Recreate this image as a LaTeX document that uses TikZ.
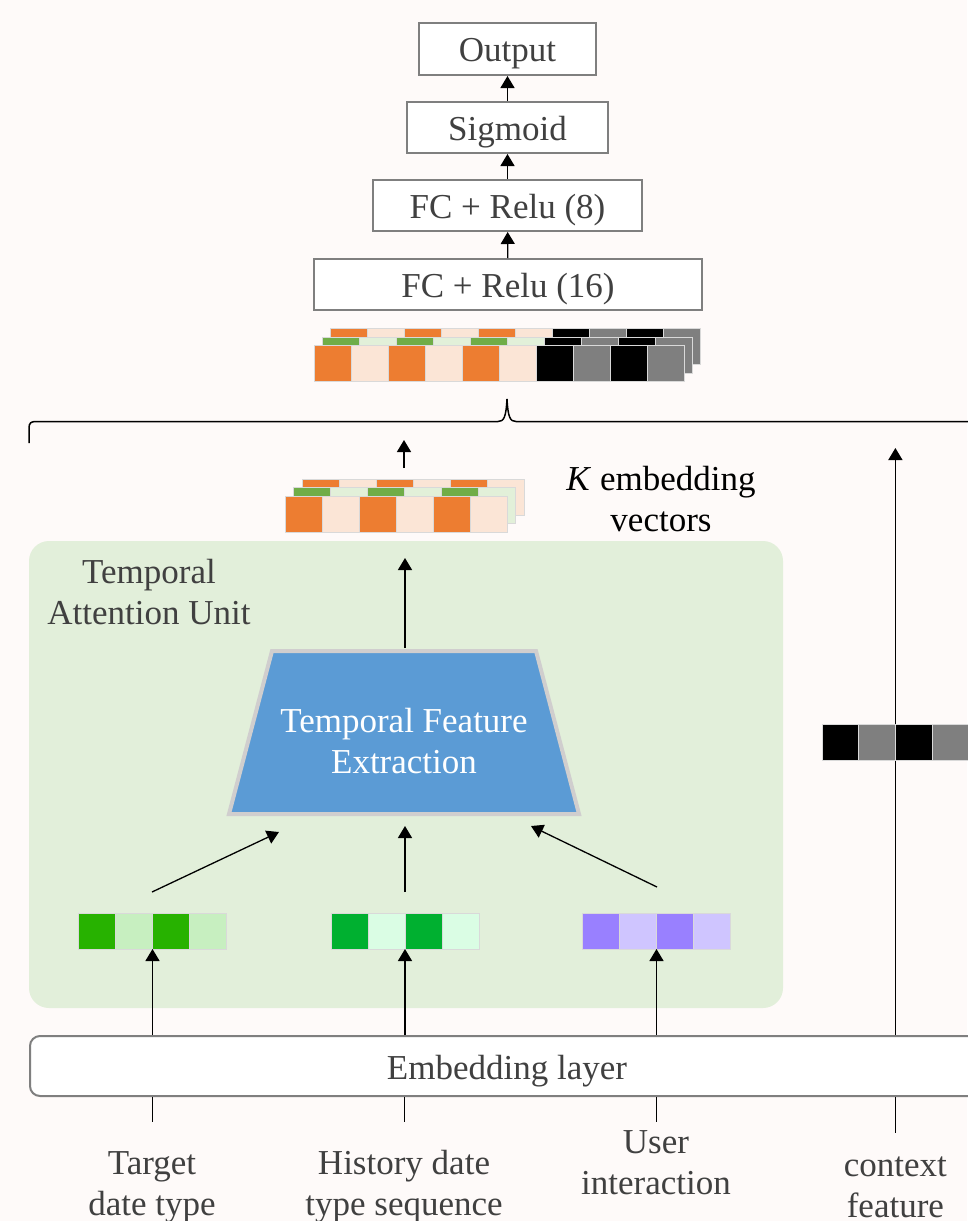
\documentclass[tikz,border=0pt]{standalone}
\usepackage{fontspec}
\setmainfont{Liberation Serif}
\usetikzlibrary{arrows.meta}

\definecolor{bg}{RGB}{254,250,249}
\definecolor{boxline}{RGB}{127,127,127}
\definecolor{txt}{RGB}{64,64,64}
\definecolor{cellline}{RGB}{217,217,217}
\definecolor{orng}{RGB}{237,125,49}
\definecolor{peach}{RGB}{251,229,214}
\definecolor{grn}{RGB}{112,173,71}
\definecolor{lgrn}{RGB}{226,240,217}
\definecolor{gry}{RGB}{127,127,127}
\definecolor{tgreen}{RGB}{39,178,0}
\definecolor{tlgreen}{RGB}{199,239,192}
\definecolor{hgreen}{RGB}{0,176,48}
\definecolor{hlgreen}{RGB}{218,253,228}
\definecolor{upurp}{RGB}{153,128,255}
\definecolor{ulpurp}{RGB}{207,197,255}
\definecolor{tauback}{RGB}{226,239,218}
\definecolor{tfeblue}{RGB}{91,155,213}
\definecolor{tfeline}{RGB}{208,206,206}

\tikzset{
  bigfont/.style={font=\fontsize{35}{41}\selectfont},
  layerbox/.style={draw=boxline, line width=2pt, fill=white, text=txt,
    bigfont, inner sep=0pt, minimum height=51pt, text height=29pt, text depth=4pt},
  cell/.style={draw=cellline, line width=1pt, minimum height=36pt,
    inner sep=0pt, outer sep=0pt},
  arr/.style={-{Triangle[width=14pt,length=12pt]}, line width=1.3pt},
  tick/.style={line width=1pt},
  lbl/.style={bigfont, text=txt, align=center, inner sep=0pt},
}

% one row of coloured cells: left x, centre y, cell width, colours, name prefix
\newcommand{\cellrow}[5]{%
  \foreach \c [count=\i from 0] in {#4}
    \node[cell, fill=\c, minimum width=#3pt] (#5-\i) at ({#1+#3*\i+#3/2}, #2) {};}

\begin{document}
\begin{tikzpicture}[x=1pt, y=-1pt]
\useasboundingbox (0,0) rectangle (967,1221);
\fill[bg] (0,0) rectangle (967,1221);

% ---- output head ----
\node[layerbox, minimum width=177pt, minimum height=52pt] (out) at (507.5,49) {Output};
\node[layerbox, minimum width=201pt] (sig) at (507.5,127.5) {Sigmoid};
\node[layerbox, minimum width=269pt] (fc8) at (507.5,205.5) {FC + Relu (8)};
\node[layerbox, minimum width=388pt] (fc16) at (508,284.5) {FC + Relu (16)};
\draw[arr] (sig) -- (out);
\draw[arr] (fc8) -- (sig);
\draw[arr] (fc16) -- (fc8);

% ---- concatenated stack ----
\cellrow{330}{346.5}{37}{orng,peach,orng,peach,orng,peach,black,gry,black,gry}{sb}
\cellrow{322}{355}{37}{grn,lgrn,grn,lgrn,grn,lgrn,black,gry,black,gry}{sm}
\cellrow{314}{363.5}{37}{orng,peach,orng,peach,orng,peach,black,gry,black,gry}{sf}

% ---- brace ----
\draw[line width=1.5pt] (29,443) -- (29,428)
  .. controls (29,423) and (31,421.5) .. (36,421.5) -- (498,421.5)
  .. controls (504,421.5) and (506,417) .. (507,399)
  .. controls (508,417) and (510,421.5) .. (516,421.5) -- (978,421.5)
  .. controls (983,421.5) and (985,423) .. (985,428) -- (985,443);

% ---- temporal attention unit ----
\node[fill=tauback, rounded corners=20pt, minimum width=754pt, minimum height=467pt,
  inner sep=0pt] (tau) at (406,774.5) {};
\node[lbl] (taulbl) at (149,592) {Temporal\\Attention Unit};

\draw[draw=tfeline, fill=tfeblue, line width=4pt, line join=miter]
  (229,814) -- (272,651) -- (536,651) -- (579,814) -- cycle;
\node[lbl, text=white] (tfe) at (404,741) {Temporal Feature\\Extraction};
\coordinate (tfetop) at (405,648);
\coordinate (tfel) at (279,832);
\coordinate (tfem) at (405,826);
\coordinate (tfer) at (531,826);

% ---- K embedding vectors ----
\cellrow{302}{497.5}{37}{orng,peach,orng,peach,orng,peach}{kb}
\cellrow{293.5}{505.5}{37}{grn,lgrn,grn,lgrn,grn,lgrn}{km}
\cellrow{285}{514}{37}{orng,peach,orng,peach,orng,peach}{kf}
\node[lbl, text=black] (klbl) at (661,499.5) {\textit{K} embedding\\vectors};
\coordinate (kin) at (405,558);
\coordinate (kout0) at (404,468);
\coordinate (kout1) at (404,440);
\draw[arr] (tfetop) -- (kin);
\draw[arr] (kout0) -- (kout1);

% ---- input embeddings ----
\cellrow{78.5}{931}{37}{tgreen,tlgreen,tgreen,tlgreen}{tv}
\cellrow{331}{931}{37}{hgreen,hlgreen,hgreen,hlgreen}{hv}
\cellrow{582.5}{931}{37}{upurp,ulpurp,upurp,ulpurp}{uv}
\coordinate (tvo) at (152,892);
\coordinate (hvo) at (405,892);
\coordinate (uvo) at (657,887);
\draw[arr] (tvo) -- (tfel);
\draw[arr] (hvo) -- (tfem);
\draw[arr] (uvo) -- (tfer);

% ---- embedding layer ----
\node[draw=boxline, line width=2pt, fill=white, rounded corners=10pt,
  minimum width=954pt, minimum height=60pt, inner sep=0pt, text=txt, bigfont,
  text height=30pt, text depth=3pt]
  (emb) at (507,1066) {Embedding layer};

% ---- context path ----
\coordinate (ctxtip) at (895.4,448);
\draw[arr] (ctxtip |- emb.north) -- (ctxtip);
\cellrow{822}{742.5}{36.7}{black,gry,black,gry}{cv}

\draw[arr] (tv-1.south east |- emb.north) -- (tv-1.south east);
\draw[arr] (hv-1.south east |- emb.north) -- (hv-1.south east);
\draw[arr] (uv-1.south east |- emb.north) -- (uv-1.south east);

% ---- raw inputs ----
\node[lbl] (in1) at (152,1187) {Target\\date type};
\node[lbl] (in2) at (404,1187) {History date\\type sequence};
\node[lbl] (in3) at (656,1163) {User\\interaction};
\node[lbl] (in4) at (895.4,1187) {context\\feature};
\draw[tick] (in1 |- emb.south) -- ++(0,25);
\draw[tick] (in2 |- emb.south) -- ++(0,25);
\draw[tick] (in3 |- emb.south) -- ++(0,25);
\draw[tick] (in4 |- emb.south) -- ++(0,36);
\end{tikzpicture}
\end{document}
